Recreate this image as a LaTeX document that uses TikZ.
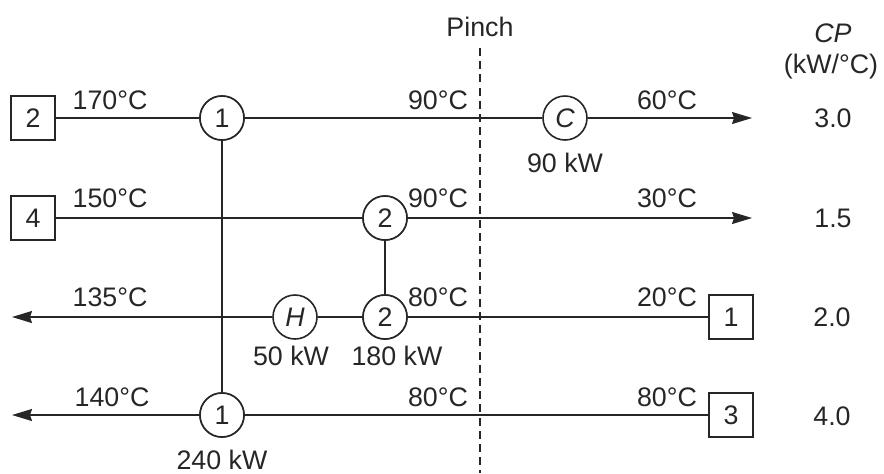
\documentclass[tikz,border=0pt]{standalone}
\usepackage{fontspec}
\setmainfont{Liberation Sans}
\usetikzlibrary{arrows.meta}
\definecolor{ink}{HTML}{262626}
\begin{document}
\begin{tikzpicture}[x=0.5pt,y=-0.5pt,
  font=\fontsize{13.4}{15}\selectfont, text=ink,
  every node/.style={inner sep=0pt},
  line/.style={draw=ink, line width=0.8pt},
  arr/.style={line, -{Stealth[length=10pt,width=6pt,inset=1pt]}},
  exch/.style={circle, draw=ink, line width=0.8pt, minimum size=22pt, fill=white},
  strm/.style={rectangle, draw=ink, line width=0.8pt, minimum size=22pt, fill=white},
  lbl/.style={anchor=center}]
\useasboundingbox (0,0) rectangle (884,473);
% pinch
\draw[ink, line width=0.65pt, dash pattern=on 4pt off 2.6pt] (480,48) -- (480,473);
\node[lbl] (pinch) at (480,27) {Pinch};
% streams nodes
\node[strm] (s2) at (33,118) {2};
\node[strm] (s4) at (33,218) {4};
\node[strm] (s1) at (731,317) {1};
\node[strm] (s3) at (731,415) {3};
\node[exch] (e1a) at (222,118) {1};
\node[exch] (cc) at (565,118) {\itshape C};
\node[exch] (e2a) at (385,218) {2};
\node[exch] (e2b) at (385,317) {2};
\node[exch] (hh) at (295,317) {\itshape H};
\node[exch] (e1b) at (222,415) {1};
\coordinate (end1) at (752,118);
\coordinate (end2) at (752,218);
\coordinate (end3) at (12,317);
\coordinate (end4) at (12,415);
% connectors
\draw[line] (s2) -- (e1a);
\draw[line] (e1a) -- (cc);
\draw[arr] (cc) -- (end1);
\draw[line] (s4) -- (e2a);
\draw[arr] (e2a) -- (end2);
\draw[line] (s1) -- (e2b);
\draw[line] (e2b) -- (hh);
\draw[arr] (hh) -- (end3);
\draw[line] (s3) -- (e1b);
\draw[arr] (e1b) -- (end4);
\draw[line] (e1a) -- (e1b);
\draw[line] (e2a) -- (e2b);
% redraw exchangers on top
\node[exch] at (222,118) {1};
\node[exch] at (385,218) {2};
\node[exch] at (385,317) {2};
\node[exch] at (222,415) {1};
% temperature labels
\node[lbl] (t1) at (110,100) {170°C};
\node[lbl] (t2) at (110,198) {150°C};
\node[lbl] (t3) at (110,297) {135°C};
\node[lbl] (t4) at (112,397) {140°C};
\node[lbl] (t5) at (438,100) {90°C};
\node[lbl] (t6) at (438,198) {90°C};
\node[lbl] (t7) at (438,297) {80°C};
\node[lbl] (t8) at (438,397) {80°C};
\node[lbl] (t9) at (667,100) {60°C};
\node[lbl] (t10) at (667,198) {30°C};
\node[lbl] (t11) at (667,297) {20°C};
\node[lbl] (t12) at (667,397) {80°C};
% duties
\node[lbl] (q1) at (565,163) {90 kW};
\node[lbl] (q2) at (291,356) {50 kW};
\node[lbl] (q3) at (397,356) {180 kW};
\node[lbl] (q4) at (222,460) {240 kW};
% CP column
\node[lbl] (cp) at (833,33) {\itshape CP};
\node[lbl] (cpu) at (831,67) {(kW/°C)};
\node[lbl] (cp1) at (833,118) {3.0};
\node[lbl] (cp2) at (833,218) {1.5};
\node[lbl] (cp3) at (832,317) {2.0};
\node[lbl] (cp4) at (832,416) {4.0};
\end{tikzpicture}
\end{document}
